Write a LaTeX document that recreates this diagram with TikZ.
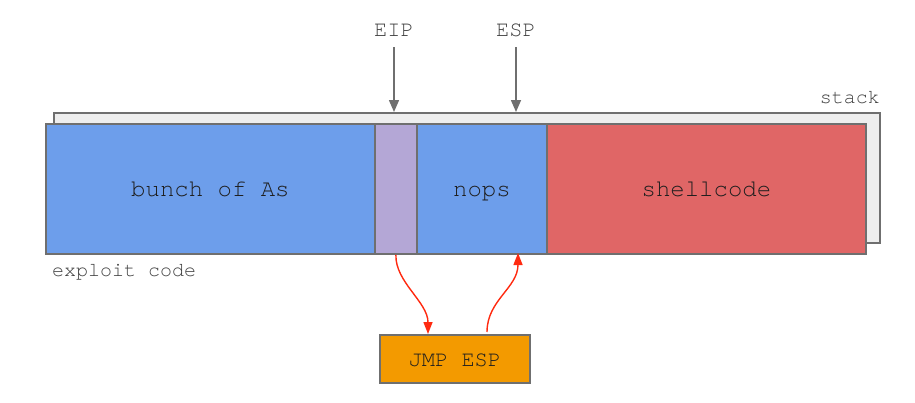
\documentclass[tikz,border=0pt]{standalone}
\usepackage{fontspec}
\setmainfont{TeX Gyre Cursor}
\usetikzlibrary{arrows.meta}
\definecolor{cblue}{HTML}{6D9EEB}
\definecolor{cpurple}{HTML}{B4A7D6}
\definecolor{cred}{HTML}{E06666}
\definecolor{corange}{HTML}{F39A00}
\definecolor{cborder}{HTML}{6F6F6F}
\definecolor{cstack}{HTML}{EEEEEE}
\definecolor{ctext}{HTML}{1E1E1E}
\definecolor{clabel}{HTML}{404040}
\definecolor{carrowred}{HTML}{FF2A10}
\tikzset{
  cell/.style={draw=cborder, line width=1.8pt, inner sep=0pt, text=ctext,
    text height=17pt, text depth=1pt, font=\fontsize{24}{26}\selectfont},
  lbl/.style={inner sep=0pt, text=clabel, font=\fontsize{20}{22}\selectfont},
  reglbl/.style={inner sep=0pt, text=clabel, font=\fontsize{22}{24}\selectfont},
  grayarrow/.style={draw=cborder, line width=1.5pt, -{Triangle[length=12pt,width=10pt]}},
  redarrow/.style={draw=carrowred, line width=1.4pt, -{Triangle[length=12pt,width=9pt]}}
}
\begin{document}
\begin{tikzpicture}[x=1pt,y=-1pt]
\useasboundingbox (0,0) rectangle (915,402);
% stack background
\node[cell, fill=cstack, anchor=north west, minimum width=826pt, minimum height=130pt] (stack) at (53,112) {};
\node[lbl, anchor=base east] (stacklbl) at (880,103) {stack};
% cells
\node[cell, fill=cblue, anchor=north west, minimum width=329pt, minimum height=130pt] (as) at (45,123) {bunch of As};
\node[cell, fill=cpurple, anchor=north west, minimum width=42pt, minimum height=130pt] (eipcell) at (374,123) {};
\node[cell, fill=cblue, anchor=north west, minimum width=130pt, minimum height=130pt] (nops) at (416,123) {nops};
\node[cell, fill=cred, anchor=north west, minimum width=319pt, minimum height=130pt] (shell) at (546,123) {shellcode};
\node[lbl, anchor=base west] (exploit) at (52,276) {exploit code};
% registers
\node[reglbl] (eip) at (394,30) {EIP};
\node[reglbl] (esp) at (516,30) {ESP};
\coordinate (eipstart) at (394,47);
\coordinate (espstart) at (516,47);
\draw[grayarrow] (eipstart) -- (eipstart |- stack.north);
\draw[grayarrow] (espstart) -- (espstart |- stack.north);
% jmp esp
\node[cell, fill=corange, anchor=north west, minimum width=150pt, minimum height=48pt,
  font=\fontsize{22}{24}\selectfont] (jmp) at (379,334) {JMP ESP};
\coordinate (r1s) at (eipcell.south);
\coordinate (r1e) at (428,334);
\coordinate (r2s) at (487,332);
\coordinate (r2e) at (518,253);
\draw[redarrow] (r1s) .. controls (395,282) and (428,302) .. (r1e);
\draw[redarrow] (r2s) .. controls (487,300) and (518,288) .. (r2e);
\end{tikzpicture}
\end{document}
